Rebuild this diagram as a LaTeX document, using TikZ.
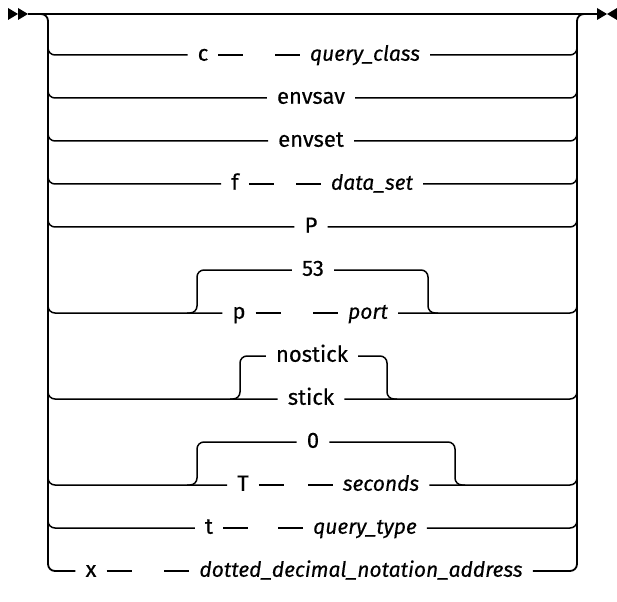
\documentclass[tikz,border=0pt]{standalone}
\usepackage{fontspec}
\setmainfont{Fira Sans}[FakeBold=0.4]
\usetikzlibrary{positioning,calc}
\tikzset{
  kw/.style={inner xsep=10pt, inner ysep=0pt, text height=11.5pt, text depth=0pt,
    font=\fontsize{22}{24}\selectfont},
  var/.style={kw, font=\fontsize{21}{24}\selectfont\itshape},
  ln/.style={line width=1.5pt, rounded corners=7pt},
  rail/.style={line width=1.8pt, rounded corners=7pt},
  tip/.style={fill=black},
}

\begin{document}
\begin{tikzpicture}[x=1pt,y=-1pt]
  \useasboundingbox (0,0) rectangle (617,601);
  % entry, exit and the empty path
  \coordinate (in) at (28,14);
  \coordinate (out) at (597,14);
  \fill[tip] (8,8) -- (18,14) -- (8,20) -- cycle;
  \fill[tip] (18,8) -- (in) -- (18,20) -- cycle;
  \fill[tip] (597,8) -- (607,14) -- (597,20) -- cycle;
  \fill[tip] (617,8) -- (607,14) -- (617,20) -- cycle;
  \draw[ln] (in) -- (out);

  % items
  \node[kw]  (c)       at (203,55)  {c};
  \node[var] (qc)      at (365,55)  {query\_class};
  \node[kw]  (esav)    at (311,98)  {envsav};
  \node[kw]  (eset)    at (311,141) {envset};
  \node[kw]  (f)       at (235,184) {f};
  \node[var] (ds)      at (372,184) {data\_set};
  \node[kw]  (P)       at (311,227) {P};
  \node[kw]  (n53)     at (313,270) {53};
  \node[kw]  (p)       at (239,313) {p};
  \node[var] (port)    at (368,313) {port};
  \node[kw]  (nostick) at (312,356) {nostick};
  \node[kw]  (stick)   at (311,399) {stick};
  \node[kw]  (n0)      at (313,442) {0};
  \node[kw]  (T)       at (243,485) {T};
  \node[var] (sec)     at (381,485) {seconds};
  \node[kw]  (t)       at (209,528) {t};
  \node[var] (qt)      at (365,528) {query\_type};
  \node[kw]  (x)       at (91,571)  {x};
  \node[var] (addr)    at (361,571) {dotted\_decimal\_notation\_address};

  % outer rails
  \coordinate (Ltop) at (48,14);
  \coordinate (Rtop) at (577,14);
  \coordinate (Lbot) at (48,571);
  \coordinate (Rbot) at (577,571);
  \draw[rail] ([xshift=-10pt]Ltop) -- (Ltop) -- (Lbot) -- (x.west);
  \draw[rail] (addr.east) -- (Rbot) -- (Rtop) -- ([xshift=10pt]Rtop);

  % branches off the rails
  \foreach \l/\r/\y in {c/qc/55, esav/esav/98, eset/eset/141, f/ds/184, P/P/227,
                        p/port/313, stick/stick/399, T/sec/485, t/qt/528} {
    \coordinate (L-\l) at (48,\y);
    \coordinate (R-\r) at (577,\y);
    \draw[ln] ([yshift=16pt]L-\l) |- (\l.west);
    \draw[ln] (\r.east) -| ([yshift=16pt]R-\r);
  }

  % keyword followed by a variable
  \foreach \a/\b in {c/qc, f/ds, p/port, T/sec, t/qt, x/addr} {
    \draw[ln] (\a.east) -- ++(25,0);
    \draw[ln] (\b.west) -- ++(-25,0);
  }

  % defaults above the line
  \coordinate (g53l) at (197,313);
  \coordinate (g53r) at (428,313);
  \draw[ln] ([xshift=-10pt]g53l) -| ([yshift=43pt]g53l) -- (n53.west);
  \draw[ln] (n53.east) -| (g53r) -- ([xshift=10pt]g53r);

  \coordinate (gstl) at (240,399);
  \coordinate (gstr) at (387,399);
  \draw[ln] ([xshift=-10pt]gstl) -| ([yshift=43pt]gstl) -- (nostick.west);
  \draw[ln] (nostick.east) -| (gstr) -- ([xshift=10pt]gstr);

  \coordinate (g0l) at (197,485);
  \coordinate (g0r) at (455,485);
  \draw[ln] ([xshift=-10pt]g0l) -| ([yshift=43pt]g0l) -- (n0.west);
  \draw[ln] (n0.east) -| (g0r) -- ([xshift=10pt]g0r);
\end{tikzpicture}
\end{document}
